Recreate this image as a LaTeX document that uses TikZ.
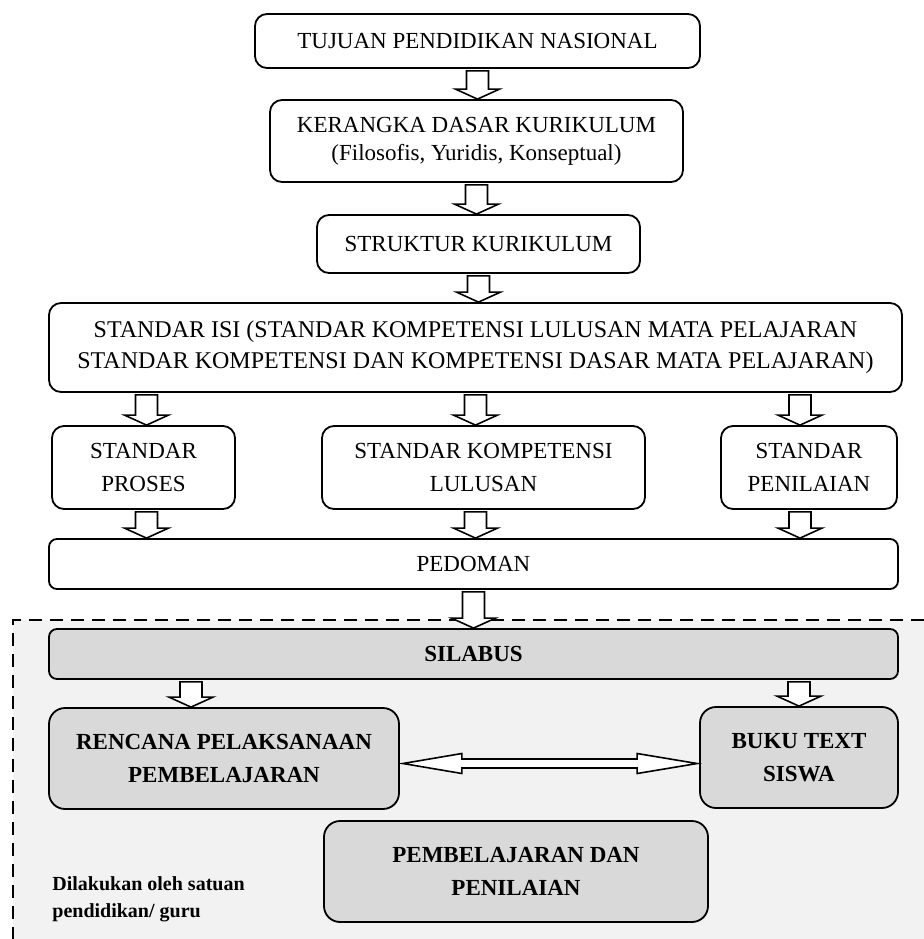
\documentclass[tikz,border=0pt]{standalone}
\usepackage{fontspec}
\setmainfont{Liberation Serif}
\usetikzlibrary{calc}
\definecolor{boxgray}{HTML}{D9D9D9}
\definecolor{areagray}{HTML}{F2F2F2}

\begin{document}
\begin{tikzpicture}[x=0.5pt,y=-0.5pt,
    box/.style={draw, line width=0.9pt, rounded corners=6pt, align=center, inner sep=2pt,
      font=\fontsize{11.5}{16.5}\selectfont},
    graybox/.style={box, fill=boxgray, rounded corners=8pt, font=\bfseries\fontsize{11.5}{16.5}\selectfont},
    downarrow/.style={draw, fill=white, line width=0.8pt, to path={let \p1=(\tikztostart), \p2=(\tikztotarget) in
      (\x1-5.5pt,\y1-1pt) -- (\x1+5.5pt,\y1-1pt) -- (\x1+5.5pt,\y2+5pt) -- (\x1+11pt,\y2+5pt)
      -- (\x1,\y2) -- (\x1-11pt,\y2+5pt) -- (\x1-5.5pt,\y2+5pt) -- cycle}},
    botharrow/.style={draw, fill=white, line width=0.8pt, to path={let \p1=(\tikztostart), \p2=(\tikztotarget) in
      (\x1+1.5pt,\y1) -- (\x1+31pt,\y1+5pt) -- (\x1+31pt,\y1+2.25pt) -- (\x2-31pt,\y1+2.25pt)
      -- (\x2-31pt,\y1+5pt) -- (\x2-1pt,\y1) -- (\x2-31pt,\y1-5pt) -- (\x2-31pt,\y1-2.25pt)
      -- (\x1+31pt,\y1-2.25pt) -- (\x1+31pt,\y1-5pt) -- cycle}}
    ]
    \useasboundingbox (0,0) rectangle (924,939);
    \fill[areagray] (13,620) rectangle (924,939);
    \draw[line width=1pt, dash pattern=on 6.5pt off 4pt] (924,620) -- (13,620) -- (13,939);

    \node[box, minimum width=222.5pt, minimum height=27pt] (tujuan) at (477.5,41) {TUJUAN PENDIDIKAN NASIONAL};
    \node[box, minimum width=206.5pt, minimum height=41pt, font=\fontsize{11.5}{14}\selectfont] (kerangka) at (476.5,141)
      {KERANGKA DASAR KURIKULUM\\(Filosofis, Yuridis, Konseptual)};
    \node[box, minimum width=161.5pt, minimum height=29pt] (struktur) at (478.5,244) {STRUKTUR KURIKULUM};
    \node[box, minimum width=426.5pt, minimum height=44.5pt, font=\fontsize{12}{15.5}\selectfont] (isi) at (475.5,347.5)
      {STANDAR ISI (STANDAR KOMPETENSI LULUSAN MATA PELAJARAN\\STANDAR KOMPETENSI DAN KOMPETENSI DASAR MATA PELAJARAN)};
    \node[box, minimum width=91.5pt, minimum height=41.5pt] (proses) at (143.5,467.5) {STANDAR\\PROSES};
    \node[box, minimum width=161.5pt, minimum height=41.5pt] (lulusan) at (483.5,467.5) {STANDAR KOMPETENSI\\LULUSAN};
    \node[box, minimum width=88pt, minimum height=41.5pt] (penilaian) at (809,467.5) {STANDAR\\PENILAIAN};
    \node[box, minimum width=424.5pt, minimum height=25pt, rounded corners=4pt] (pedoman) at (473.5,564) {PEDOMAN};

    \node[graybox, minimum width=424.5pt, minimum height=25pt, rounded corners=4pt] (silabus) at (473.5,654) {SILABUS};
    \node[graybox, minimum width=175pt, minimum height=50.5pt] (rpp) at (224,758.5) {RENCANA PELAKSANAAN\\PEMBELAJARAN};
    \node[graybox, minimum width=99pt, minimum height=50.5pt] (buku) at (799,757.5) {BUKU TEXT\\SISWA};
    \node[graybox, minimum width=192pt, minimum height=50.5pt] (belajar) at (516,871.5) {PEMBELAJARAN DAN\\PENILAIAN};
    \node[align=left, anchor=west, inner sep=0pt, font=\bfseries\fontsize{10}{13.5}\selectfont] (pelaku) at (52,899.5)
      {Dilakukan oleh satuan\\pendidikan/ guru};

    \draw[downarrow] (tujuan.south) to (kerangka.north);
    \draw[downarrow] (kerangka.south) to (struktur.north);
    \draw[downarrow] (struktur.south) to (isi.north);
    \draw[downarrow] ([xshift=1.5pt]isi.south -| proses.north) to (proses.north);
    \draw[downarrow] (isi.south) to (isi.south |- lulusan.north);
    \draw[downarrow] ([xshift=-4.5pt]isi.south -| penilaian.north) to (penilaian.north);
    \draw[downarrow] ([xshift=1.5pt]proses.south) to (proses.south |- pedoman.north);
    \draw[downarrow] (isi.south |- lulusan.south) to (pedoman.north);
    \draw[downarrow] ([xshift=-4.5pt]penilaian.south) to (penilaian.south |- pedoman.north);
    \draw[downarrow] (pedoman.south) to (silabus.north);
    \draw[downarrow] ([xshift=-16.5pt]silabus.south -| rpp.north) to (rpp.north);
    \draw[downarrow] (silabus.south -| buku.north) to (buku.north);
    \draw[botharrow] ([yshift=-2.5pt]rpp.east) to ([yshift=-2.5pt]buku.west);
\end{tikzpicture}
\end{document}
